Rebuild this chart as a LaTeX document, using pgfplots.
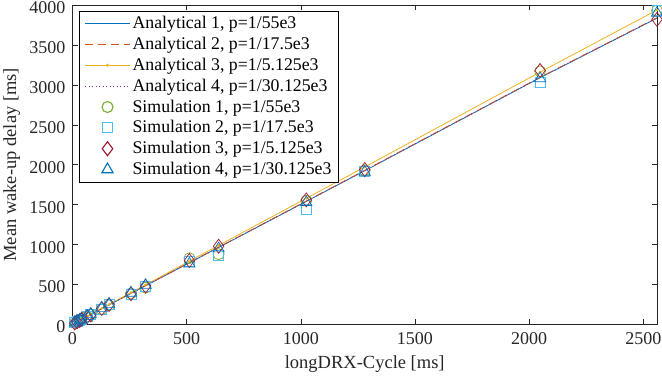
\documentclass[border=0pt]{standalone}
\usepackage{fontspec}
\setmainfont{Liberation Serif}
\usepackage{pgfplots}
\pgfplotsset{compat=1.18}
\definecolor{c1}{rgb}{0,0.447,0.741}
\definecolor{c2}{rgb}{0.85,0.325,0.098}
\definecolor{c3}{rgb}{0.929,0.694,0.125}
\definecolor{c4}{rgb}{0.494,0.184,0.556}
\definecolor{c5}{rgb}{0.466,0.674,0.188}
\definecolor{c6}{rgb}{0.301,0.745,0.933}
\definecolor{c7}{rgb}{0.635,0.078,0.184}
\definecolor{axgray}{gray}{0.15}
\begin{document}
\fontsize{18}{21}\selectfont
\begin{tikzpicture}
\useasboundingbox (-72.5pt,-54.5pt) rectangle (589.5pt,324.5pt);
\begin{axis}[
  at={(0pt,0pt)}, anchor=south west,
  scale only axis,
  width=584.5pt, height=319.5pt,
  xmin=0, xmax=2560, ymin=0, ymax=4000,
  xtick={0,500,1000,1500,2000,2500},
  ytick={0,500,1000,1500,2000,2500,3000,3500,4000},
  tick align=inside, tick pos=both,
  major tick length=5.5pt,
  /pgf/number format/assume math mode=true,
  /pgf/number format/1000 sep={},
  tick label style={font=\fontsize{18}{21}\selectfont, text=axgray},
  xticklabel style={yshift=-2pt},
  yticklabel style={xshift=-1pt, yshift=-2.5pt},
  label style={font=\fontsize{18.5}{21}\selectfont, text=axgray},
  xlabel={longDRX-Cycle [ms]},
  ylabel={Mean wake-up delay [ms]},
  xlabel style={yshift=1pt},
  ylabel style={yshift=-3pt},
  axis line style={axgray, line width=0.6pt},
  every tick/.style={axgray, line width=0.6pt},
  legend style={at={(0.0114,0.981)}, anchor=north west, draw=black, line width=0.6pt,
    font=\fontsize{17.8}{21}\selectfont, legend cell align=left,
    row sep=1.8pt, inner xsep=5pt, inner ysep=3pt},
  legend image code/.code={\draw[mark repeat=2,mark phase=2,#1,line width=1.1pt] plot coordinates {(0pt,0.3pt) (22.5pt,0.3pt) (45pt,0.3pt)};},
]
\addplot[color=c1, line width=0.8pt, no marks] coordinates {
(10,20)(20,35)(32,53)(40,65)(64,101)(80,125)(128,197)(160,245)(256,389)(320,485)(512,773)(640,965)(1024,1541)(1280,1925)(2048,3090)(2560,3835)};
\addlegendentry{Analytical 1, p=1/55e3}
\addplot[color=c2, line width=0.8pt, no marks, dash pattern=on 8pt off 5pt] coordinates {
(10,21)(20,36)(32,54)(40,66)(64,102)(80,126)(128,198)(160,247)(256,391)(320,487)(512,776)(640,968)(1024,1546)(1280,1930)(2048,3095)(2560,3840)};
\addlegendentry{Analytical 2, p=1/17.5e3}
\addplot[color=c3, line width=0.8pt, mark=*, mark size=0.9pt, mark options={fill=c3, draw=c3}] coordinates {
(10,20)(20,36)(32,54)(40,66)(64,104)(80,128)(128,202)(160,251)(256,399)(320,497)(512,793)(640,990)(1024,1580)(1280,1972)(2048,3160)(2560,3937)};
\addlegendentry{Analytical 3, p=1/5.125e3}
\addplot[color=c4, line width=0.8pt, no marks, dash pattern=on 1pt off 2.5pt] coordinates {
(10,20)(20,35)(32,53)(40,65)(64,101)(80,125)(128,197)(160,246)(256,390)(320,486)(512,774)(640,966)(1024,1543)(1280,1927)(2048,3092)(2560,3837)};
\addlegendentry{Analytical 4, p=1/30.125e3}
\addplot[color=c5, only marks, mark=o, mark size=5.5pt, line width=0.7pt] coordinates {
(10,19)(20,34)(32,52)(40,66)(64,100)(80,122)(128,190)(160,240)(256,390)(320,460)(512,830)(640,880)(1024,1550)(1280,1930)(2048,3170)(2560,3930)};
\addlegendentry{Simulation 1, p=1/55e3}
\addplot[color=c6, only marks, mark=square, mark size=5pt, line width=0.7pt] coordinates {
(10,21)(20,37)(32,55)(40,64)(64,103)(80,128)(128,195)(160,248)(256,380)(320,475)(512,790)(640,870)(1024,1440)(1280,1920)(2048,3030)(2560,3930)};
\addlegendentry{Simulation 2, p=1/17.5e3}
\addplot[color=c7, only marks, mark=diamond, mark size=7pt, line width=0.7pt] coordinates {
(10,18)(20,33)(32,50)(40,68)(64,98)(80,120)(128,200)(160,250)(256,385)(320,480)(512,800)(640,980)(1024,1560)(1280,1940)(2048,3180)(2560,3820)};
\addlegendentry{Simulation 3, p=1/5.125e3}
\addplot[color=c1, only marks, mark=triangle, mark size=6.5pt, line width=0.7pt] coordinates {
(10,22)(20,36)(32,56)(40,63)(64,105)(80,130)(128,205)(160,252)(256,395)(320,490)(512,760)(640,950)(1024,1530)(1280,1910)(2048,3080)(2560,3900)};
\addlegendentry{Simulation 4, p=1/30.125e3}
\end{axis}
\end{tikzpicture}
\end{document}
